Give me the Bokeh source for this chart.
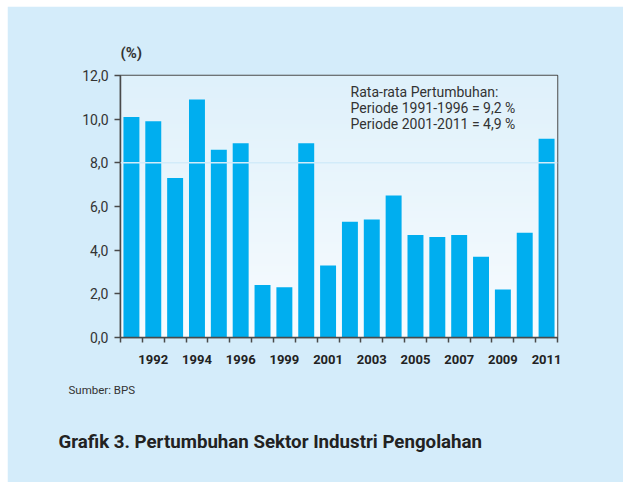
import numpy as np
from bokeh.plotting import figure
from bokeh.models import Range1d, FixedTicker, Label, Span, Title
from bokeh.embed import file_html
from bokeh.resources import INLINE

# ---- data ----
years = ["1991", "1992", "1993", "1994", "1995", "1996", "1997", "1999", "2000", "2001",
         "2002", "2003", "2004", "2005", "2006", "2007", "2008", "2009", "2010", "2011"]
growth = [10.1, 9.9, 7.3, 10.9, 8.6, 8.9, 2.4, 2.3, 8.9, 3.3,
          5.3, 5.4, 6.5, 4.7, 4.6, 4.7, 3.7, 2.2, 4.8, 9.1]
y_ticks = [0, 2, 4, 6, 8, 10, 12]
y_tick_labels = ["0,0", "2,0", "4,0", "6,0", "8,0", "10,0", "12,0"]
labelled_years = years[1::2]
title_text = "Grafik 3. Pertumbuhan Sektor Industri Pengolahan"
note_lines = ["Rata-rata Pertumbuhan:", "Periode 1991-1996 = 9,2 %", "Periode 2001-2011 = 4,9 %"]
source_text = "Sumber: BPS"
unit_text = "(%)"

FONT = "Roboto"
PANEL = "#d4ecfa"
BAR = "#00aeef"
DARK = "#4a4a4a"
TEXT = "#333333"

n = len(years)
p = figure(width=616, height=476, output_backend="svg", toolbar_location=None,
           x_range=Range1d(0, n), y_range=Range1d(0, 12),
           min_border_left=113, min_border_right=66, min_border_top=69, min_border_bottom=145,
           title=unit_text)
p.styles = {"margin-left": "7px", "margin-top": "6px"}
p.border_fill_color = PANEL
p.background_fill_color = "#ffffff"
p.outline_line_color = DARK
p.outline_line_width = 1.5
p.xgrid.visible = False
p.ygrid.visible = False

p.title.align = "left"
p.title.text_font = FONT
p.title.text_font_style = "bold"
p.title.text_font_size = "15px"
p.title.text_color = TEXT
p.title.standoff = 28

# gradient background of the plot frame
rows = 120
top_c = np.array([0xdf, 0xf1, 0xfb], dtype=float)
bot_c = np.array([0xf8, 0xfc, 0xff], dtype=float)
t = np.linspace(0, 1, rows)[:, None]
cols = (bot_c * (1 - t) + top_c * t).astype(np.uint32)
img = np.zeros((rows, 1), dtype=np.uint32)
view = img.view(dtype=np.uint8).reshape((rows, 1, 4))
view[:, 0, 0] = cols[:, 0]
view[:, 0, 1] = cols[:, 1]
view[:, 0, 2] = cols[:, 2]
view[:, 0, 3] = 255
p.image_rgba(image=[img], x=0, y=0, dw=n, dh=12)

p.add_layout(Span(location=8, dimension="width", line_color="#d2ebf9", line_width=1.5))

xs = [i + 0.5 for i in range(n)]
p.vbar(x=xs, top=growth, width=0.73, bottom=0, fill_color=BAR, line_color=None)

# y axis
p.yaxis.ticker = FixedTicker(ticks=y_ticks, minor_ticks=[])
p.yaxis.major_label_overrides = {t_: l for t_, l in zip(y_ticks, y_tick_labels)}
p.yaxis.major_tick_out = 6
p.yaxis.major_tick_in = 0
p.yaxis.major_tick_line_color = DARK
p.yaxis.major_tick_line_width = 1.5
p.yaxis.axis_line_color = DARK
p.yaxis.axis_line_width = 1.5
p.yaxis.major_label_text_font = FONT
p.yaxis.major_label_text_font_size = "14px"
p.yaxis.major_label_text_color = TEXT
p.yaxis.major_label_standoff = 6

# x axis: labels on every second bar, ticks at every bar boundary
label_pos = [xs[i] for i in range(1, n, 2)]
p.xaxis.ticker = FixedTicker(ticks=label_pos, minor_ticks=list(range(0, n + 1)))
p.xaxis.major_label_overrides = {pos: y for pos, y in zip(label_pos, labelled_years)}
p.xaxis.major_tick_out = 0
p.xaxis.major_tick_in = 0
p.xaxis.minor_tick_out = 5
p.xaxis.minor_tick_in = 0
p.xaxis.minor_tick_line_color = DARK
p.xaxis.minor_tick_line_width = 1.5
p.xaxis.axis_line_color = DARK
p.xaxis.axis_line_width = 1.5
p.xaxis.major_label_text_font = FONT
p.xaxis.major_label_text_font_style = "bold"
p.xaxis.major_label_text_font_size = "13px"
p.xaxis.major_label_text_color = "#222222"
p.xaxis.major_label_standoff = 12

# note inside the frame
for i, line in enumerate(note_lines):
    p.add_layout(Label(x=10.53, y=11.23 - i * 0.73, text=line, text_font=FONT,
                       text_font_size="14px", text_color=TEXT, text_align="left",
                       text_baseline="middle"))

# source and chart title below
src = Title(text=source_text, align="left", offset=-52, text_font=FONT,
            text_font_style="normal", text_font_size="11.5px", text_color=TEXT, standoff=29)
p.add_layout(src, "below")
ttl = Title(text=title_text, align="left", offset=-62, text_font=FONT,
            text_font_style="bold", text_font_size="18.7px", text_color="#222222", standoff=35)
p.add_layout(ttl, "below")

open("out.html", "w").write(file_html(p, INLINE))
